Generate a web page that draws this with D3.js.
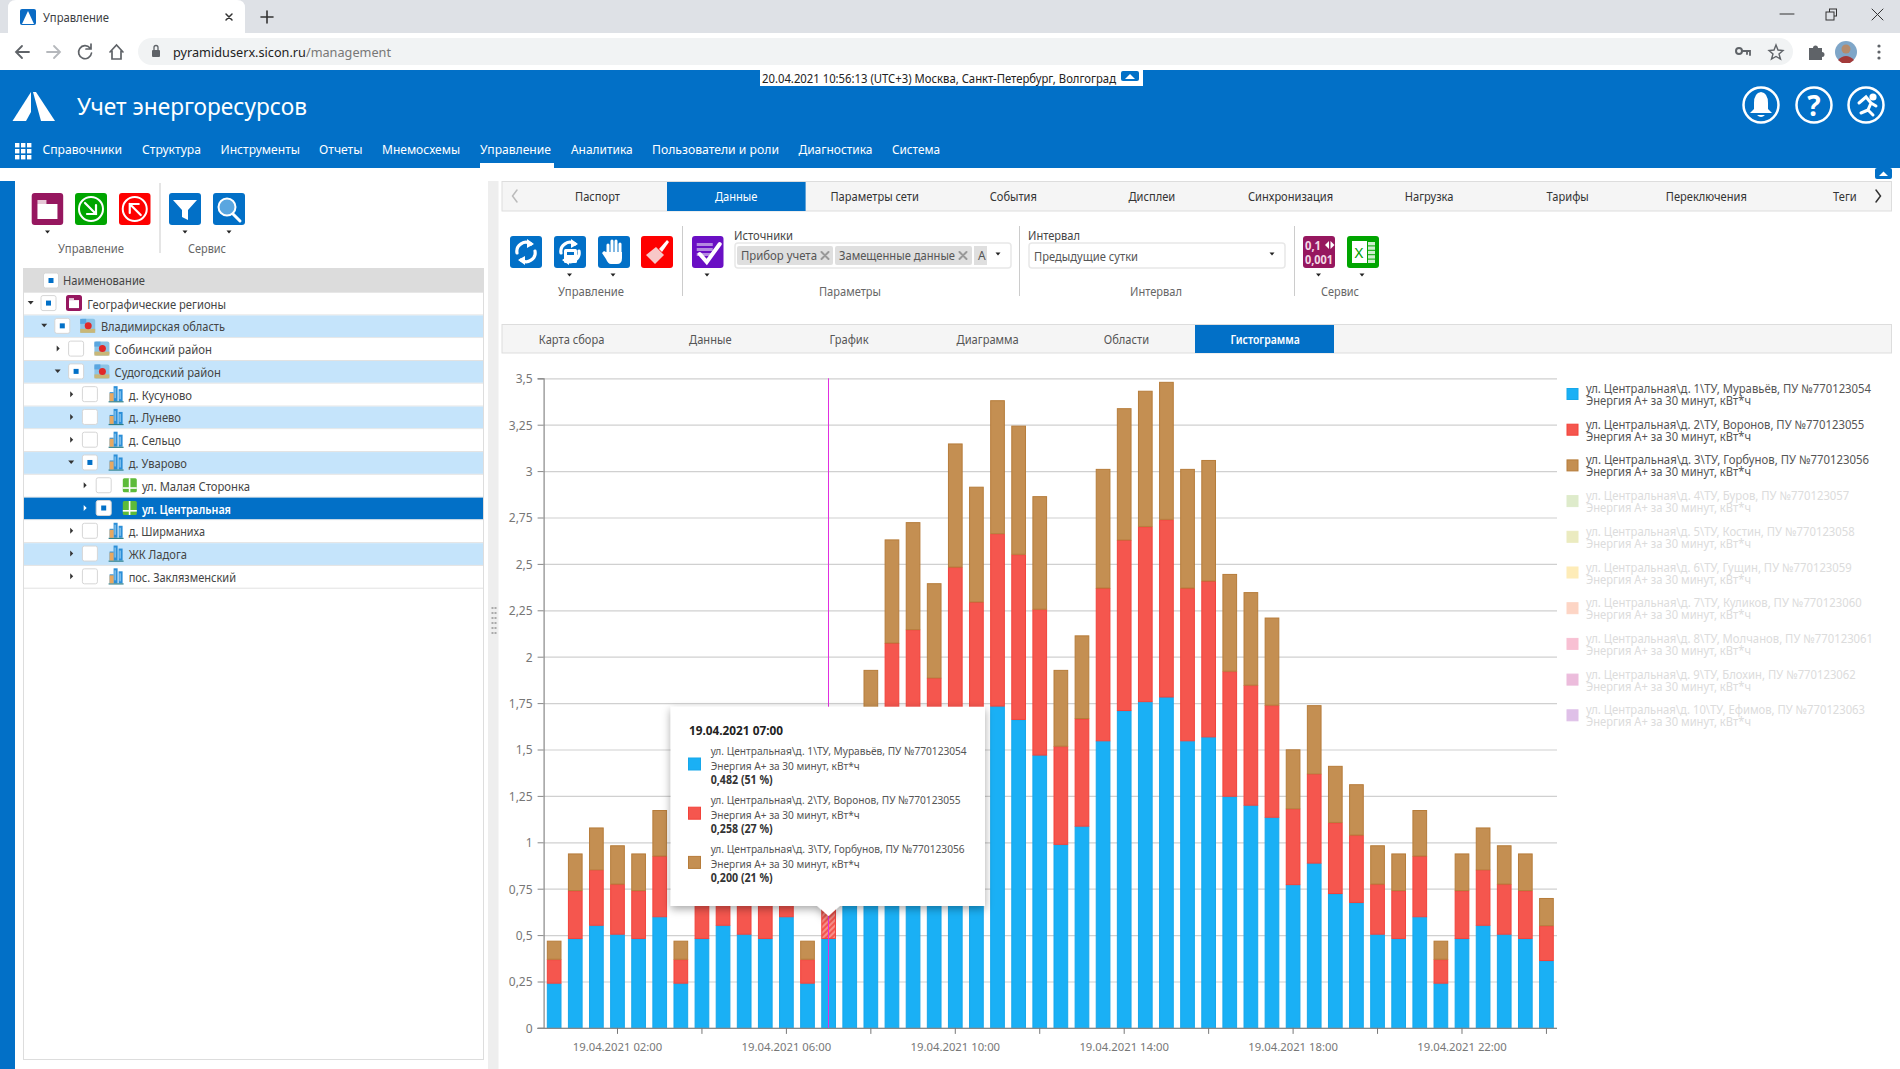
<!DOCTYPE html>
<html lang="ru"><head><meta charset="utf-8"><title>Управление</title>
<style>html,body{margin:0;padding:0;background:#fff;overflow:hidden}svg{display:block}text{font-family:"Noto Sans",sans-serif}</style>
<script src="https://cdnjs.cloudflare.com/ajax/libs/d3/7.8.5/d3.min.js"></script></head><body><svg id="c" width="1900" height="1069"></svg>
<script>
// ---- chart data ----
const slots = ["00:30","01:00","01:30","02:00","02:30","03:00","03:30","04:00","04:30","05:00","05:30","06:00","06:30","07:00","07:30","08:00","08:30","09:00","09:30","10:00","10:30","11:00","11:30","12:00","12:30","13:00","13:30","14:00","14:30","15:00","15:30","16:00","16:30","17:00","17:30","18:00","18:30","19:00","19:30","20:00","20:30","21:00","21:30","22:00","22:30","23:00","23:30","24:00"];
const meter1 = [.241,.482,.553,.505,.482,.599,.241,.482,.553,.505,.482,.599,.241,.482,.676,.989,1.35,1.4,1.23,1.615,1.495,1.734,1.662,1.47,.989,1.087,1.547,1.71,1.758,1.783,1.547,1.568,1.248,1.2,1.135,.772,.888,.724,.676,.505,.482,.599,.241,.482,.553,.505,.482,.363];
const meter2 = [.129,.258,.299,.27,.258,.327,.129,.258,.299,.27,.258,.327,.129,.258,.363,.529,.724,.746,.656,.868,.8,.929,.89,.786,.529,.58,.823,.919,.944,.957,.823,.84,.674,.647,.604,.409,.481,.383,.363,.27,.258,.327,.129,.258,.299,.27,.258,.188];
const meter3 = [.1,.2,.228,.209,.2,.248,.1,.2,.228,.209,.2,.248,.1,.2,.274,.411,.558,.579,.51,.666,.621,.719,.693,.609,.411,.448,.642,.71,.731,.741,.642,.652,.524,.501,.472,.32,.37,.305,.274,.209,.2,.248,.1,.2,.228,.209,.2,.149];
const seriesKeys = ["meter1","meter2","meter3"];
const yTicks = [0,.25,.5,.75,1,1.25,1.5,1.75,2,2.25,2.5,2.75,3,3.25,3.5];
const xTickSlots = ["02:00","04:00","06:00","08:00","10:00","12:00","14:00","16:00","18:00","20:00","22:00","24:00"];
const xLabelSlots = ["02:00","06:00","10:00","14:00","18:00","22:00"];
const datePrefix = "19.04.2021 ";
const legendNames = ["ул. Центральная\\д. 1\\ТУ, Муравьёв, ПУ №770123054","ул. Центральная\\д. 2\\ТУ, Воронов, ПУ №770123055","ул. Центральная\\д. 3\\ТУ, Горбунов, ПУ №770123056","ул. Центральная\\д. 4\\ТУ, Буров, ПУ №770123057","ул. Центральная\\д. 5\\ТУ, Костин, ПУ №770123058","ул. Центральная\\д. 6\\ТУ, Гущин, ПУ №770123059","ул. Центральная\\д. 7\\ТУ, Куликов, ПУ №770123060","ул. Центральная\\д. 8\\ТУ, Молчанов, ПУ №770123061","ул. Центральная\\д. 9\\ТУ, Блохин, ПУ №770123062","ул. Центральная\\д. 10\\ТУ, Ефимов, ПУ №770123063"];
const legendUnit = "Энергия А+ за 30 минут, кВт*ч";
const legendActive = [true,true,true,false,false,false,false,false,false,false];
const hoverSlot = "07:00";
const tooltipValues = ["0,482 (51 %)","0,258 (27 %)","0,200 (21 %)"];
const treeRows = ["Географические регионы","Владимирская область","Собинский район","Судогодский район","д. Кусуново","д. Лунево","д. Сельцо","д. Уварово","ул. Малая Сторонка","ул. Центральная","д. Ширманиха","ЖК Ладога","пос. Заклязменский"];
const treeDepth = [0,1,2,2,3,3,3,3,4,4,3,3,3];
const treeChecked = [1,1,0,1,0,0,0,1,0,1,0,0,0];
const treeOpen = [1,1,0,1,0,0,0,1,0,0,0,0,0];
const navItems = ["Справочники","Структура","Инструменты","Отчеты","Мнемосхемы","Управление","Аналитика","Пользователи и роли","Диагностика","Система"];
const topTabs = ["Паспорт","Данные","Параметры сети","События","Дисплеи","Синхронизация","Нагрузка","Тарифы","Переключения","Теги"];
const subTabs = ["Карта сбора","Данные","График","Диаграмма","Области","Гистограмма"];

// ---- layout measurements (not data) ----
const treeEnds = [226,225,212,221,192,181,181,187,250,231,205,187,236];
const navStart = [42.4,142,220.5,319,382,480,571,652,798.5,892];
const navEnd = [122,201,300,362.5,460,551,632.6,779,872.5,940];
const legendWidths = [285,278.3,283,263.3,268.7,265.7,275.7,287,269.7,279];

// ---- palette ----
const BLUE="#0270c7", cols={meter1:"#1ab0f5",meter2:"#f5564e",meter3:"#c48f52"}, strokes={meter1:"#16a7ea",meter2:"#f2423a",meter3:"#b67c3a"};
const legendFaded=["","","","#deebcb","#ebebc0","#feecb8","#fdd5c5","#f8c0d3","#ecbcdc","#dfc0e8"];

const svg=d3.select("#c");
const defs=svg.append("defs");
function hatch(id,bg,fg){const p=defs.append("pattern").attr("id",id).attr("width",4).attr("height",4).attr("patternUnits","userSpaceOnUse").attr("patternTransform","rotate(45)");
  p.append("rect").attr("width",4).attr("height",4).attr("fill",bg);p.append("rect").attr("width",2).attr("height",4).attr("fill",fg);}
hatch("hatchR","#f5564e","#f88f88");hatch("hatchB","#c48f52","#dcb98e");
const sh=defs.append("filter").attr("id","sh").attr("x","-10%").attr("y","-10%").attr("width","120%").attr("height","125%");
sh.append("feDropShadow").attr("dx",0).attr("dy",3).attr("stdDeviation",4).attr("flood-color","#000").attr("flood-opacity",.35);

function R(g,x,y,w,h,f,o={}){const r=g.append("rect").attr("x",x).attr("y",y).attr("width",w).attr("height",h).attr("fill",f);
  if(o.s)r.attr("stroke",o.s).attr("stroke-width",o.sw||1);if(o.r)r.attr("rx",o.r);return r;}
function T(g,x,y,s,o={}){const t=g.append("text").attr("x",x).attr("y",y).attr("dominant-baseline","central").attr("font-size",o.z||12).attr("fill",o.f||"#444").attr("text-anchor",o.a||"start").text(s);
  if(o.b)t.attr("font-weight",o.b);if(o.w)t.attr("textLength",o.w).attr("lengthAdjust","spacingAndGlyphs");
  if(o.k)t.attr("textLength",t.node().getComputedTextLength()*o.k).attr("lengthAdjust","spacingAndGlyphs");return t;}
function P(g,d,f,o={}){const p=g.append("path").attr("d",d).attr("fill",f||"none");if(o.s)p.attr("stroke",o.s).attr("stroke-width",o.sw||1).attr("stroke-linecap","round");return p;}

// ---- browser chrome ----
const ch=svg.append("g");
R(ch,0,0,1900,33,"#dee1e6");
P(ch,"M8 33 V8 Q8 0 16 0 H237 Q245 0 245 8 V33 Z","#fff");
R(ch,20,9,16,16,"#0a6bc4",{r:2});P(ch,"M28 11 L34 24 H22 Z","#fff");
T(ch,43,17,"Управление",{z:12,w:66,f:"#3c4043"});
P(ch,"M226 14 L232 20 M232 14 L226 20",null,{s:"#333",sw:1.5});
P(ch,"M267 11 V23 M261 17 H273",null,{s:"#333",sw:1.6});
P(ch,"M1780 14 H1794",null,{s:"#333"});
ch.append("rect").attr("x",1829.5).attr("y",9).attr("width",7).attr("height",7).attr("fill","none").attr("stroke","#333");
R(ch,1826,12,8,8,"#dee1e6",{s:"#333"});
P(ch,"M1872 9 L1883 20 M1883 9 L1872 20",null,{s:"#333"});
R(ch,0,33,1900,37,"#fff");
P(ch,"M16 52 H29 M22 46 L16 52 L22 58",null,{s:"#5f6368",sw:1.8});
P(ch,"M47 52 H60 M54 46 L60 52 L54 58",null,{s:"#b5b8bc",sw:1.8});
P(ch,"M90 48 A6.5 6.5 0 1 0 91.5 53 M91 44 V49 H86",null,{s:"#5f6368",sw:1.7});
P(ch,"M110 52 L116.5 45 L123 52 M112 51 V59 H121 V51",null,{s:"#5f6368",sw:1.7});
R(ch,138,38,1655,27,"#f1f3f4",{r:13.5});
R(ch,152,50,8,7,"#5f6368",{r:1});P(ch,"M154 50 V47.5 A2 2 0 0 1 158 47.5 V50",null,{s:"#5f6368",sw:1.3});
const url=T(ch,173,51.5,"",{z:13,f:"#222"});url.append("tspan").text("pyramiduserx.sicon.ru");url.append("tspan").attr("fill","#777").text("/management");url.attr("textLength",218).attr("lengthAdjust","spacingAndGlyphs");
ch.append("circle").attr("cx",1739).attr("cy",51).attr("r",3).attr("fill","none").attr("stroke","#5f6368").attr("stroke-width",2);
P(ch,"M1742 51 H1750 V55 M1747 51 V54",null,{s:"#5f6368",sw:1.8});
P(ch,"M1776 45 L1778 50 L1783 50.5 L1779 54 L1780.5 59 L1776 56.5 L1771.5 59 L1773 54 L1769 50.5 L1774 50 Z",null,{s:"#5f6368",sw:1.4});
P(ch,"M1809 48 H1813 A2.5 2.5 0 0 1 1818 48 H1822 V52 A2.5 2.5 0 0 1 1822 57 V60 H1809 Z","#5f6368");
ch.append("circle").attr("cx",1846).attr("cy",52).attr("r",11).attr("fill","#7fa6c8");
ch.append("circle").attr("cx",1846).attr("cy",49).attr("r",4.5).attr("fill","#b58b6c");
P(ch,"M1838 60 Q1846 52 1854 60 L1850 63 H1842 Z","#a33a3a");
[46,52,58].forEach(y=>ch.append("circle").attr("cx",1879).attr("cy",y).attr("r",1.6).attr("fill","#5f6368"));

// ---- app header ----
const hd=svg.append("g");
R(hd,0,70,1900,98,BLUE);
P(hd,"M12.5 121 L31 92 L31 112 L26 121 Z","#fff");P(hd,"M33 92 L36 92 L55 121 L41 121 Z","#fff");
T(hd,77,105.5,"Учет энергоресурсов",{z:23,f:"#fff",w:230});
R(hd,760,69,383,17,"#fff");
T(hd,762,78,"20.04.2021 10:56:13 (UTC+3) Москва, Санкт-Петербург, Волгоград",{z:12,f:"#222",w:354});
R(hd,1121,71,18,10,BLUE,{r:2});P(hd,"M1125 79 L1130 74 L1135 79 Z","#fff");
[[1761],[1814],[1866]].forEach(([x])=>{hd.append("circle").attr("cx",x).attr("cy",105).attr("r",17.5).attr("fill","none").attr("stroke","#fff").attr("stroke-width",2.5);});
P(hd,"M1761 92 Q1754 93 1754 103 V109 L1750 113 H1772 L1768 109 V103 Q1768 93 1761 92 Z","#fff");P(hd,"M1757 115 H1765 Q1761 119 1757 115 Z","#fff");
T(hd,1814,105,"?",{z:28,f:"#fff",a:"middle",b:700});
hd.append("circle").attr("cx",1873).attr("cy",97).attr("r",3.6).attr("fill","#fff");
P(hd,"M1859 103 L1866 97 L1871 103 L1868 110 L1873 115 M1868 110 L1861 113 M1871 103 L1876 106",null,{s:"#fff",sw:3});
for(let i=0;i<3;i++)for(let j=0;j<3;j++)R(hd,15+i*6,143+j*6,4.4,4.4,"#fff");
navItems.forEach((n,i)=>T(hd,navStart[i],148.5,n,{z:13,f:"#fff",w:navEnd[i]-navStart[i]}));
R(hd,480,163,74,5,"#fff");
R(hd,1875,168,17,11,BLUE,{r:2});P(hd,"M1879 176 L1883.5 171.5 L1888 176 Z","#fff");

// ---- toolbar icon helpers ----
function btn(g,x,y,w,h,c,kind){R(g,x,y,w,h,c,{r:3});const cx=x+w/2,cy=y+h/2;
  if(kind==="folder"){R(g,cx-10,cy-9,9,4,"#e6c6d6");R(g,cx-10,cy-5,20,15,"#fff");}
  if(kind==="in"||kind==="out"){g.append("circle").attr("cx",cx).attr("cy",cy).attr("r",12).attr("fill","none").attr("stroke","#fff").attr("stroke-width",2);
    const a=kind==="in"?`M${cx-6} ${cy-6} L${cx+5} ${cy+5} M${cx+5} ${cy-4} V${cy+5} H${cx-4}`:`M${cx+6} ${cy+6} L${cx-5} ${cy-5} M${cx-5} ${cy+4} V${cy-5} H${cx+4}`;P(g,a,null,{s:"#fff",sw:2.2});}
  if(kind==="filter")P(g,`M${cx-12} ${cy-9} H${cx+12} L${cx+3} ${cy+1} V${cy+11} L${cx-3} ${cy+8} V${cy+1} Z`,"#fff");
  if(kind==="search"){g.append("circle").attr("cx",cx-2).attr("cy",cy-2).attr("r",8.5).attr("fill","#5aa6e0").attr("stroke","#fff").attr("stroke-width",2);P(g,`M${cx+4} ${cy+5} L${cx+11} ${cy+12}`,null,{s:"#fff",sw:3});}
  if(kind==="sync"||kind==="sync2"){P(g,`M${cx-9} ${cy+1} A9 9 0 0 1 ${cx+5} ${cy-8} M${cx+9} ${cy-1} A9 9 0 0 1 ${cx-5} ${cy+8}`,null,{s:"#fff",sw:3.2});
    P(g,`M${cx+1} ${cy-13} L${cx+8} ${cy-8} L${cx+1} ${cy-4} Z M${cx-1} ${cy+13} L${cx-8} ${cy+8} L${cx-1} ${cy+4} Z`,"#fff");
    if(kind==="sync2"){R(g,cx-6,cy-3,13,14,"#fff",{r:1.5});R(g,cx-3,cy,7,3,BLUE);}}
  if(kind==="hand"){[[-6,-7],[-2,-11],[2,-11],[6,-8]].forEach(([dx,t])=>P(g,`M${cx+dx} ${cy+2} V${cy+t}`,null,{s:"#fff",sw:3}));
    P(g,`M${cx-8} ${cy} H${cx+8} V${cy+6} Q${cx+8} ${cy+12} ${cx+3} ${cy+12} H${cx-3} Q${cx-6} ${cy+12} ${cx-8} ${cy+7} L${cx-12} ${cy+1} L${cx-10} ${cy-1} Z`,"#fff");}
  if(kind==="brush"){P(g,`M${cx+2} ${cy-3} L${cx+10} ${cy-12} L${cx+12} ${cy-10} L${cx+5} ${cy}`,"#fff");P(g,`M${cx-1} ${cy-5} L${cx+7} ${cy+3} L${cx-2} ${cy+12} L${cx-11} ${cy+3} Z`,"#f8c8c8");}
  if(kind==="check"){[-9,-4,1].forEach(d=>R(g,cx-11,cy+d,16,3,"#b48ae0"));P(g,`M${cx-8} ${cy+2} L${cx-1} ${cy+10} L${cx+12} ${cy-8}`,null,{s:"#fff",sw:4});}
  if(kind==="digits"){T(g,cx-6,cy-7,"0,1",{z:12,f:"#f3d9e6",w:16,a:"middle",b:700});P(g,`M${cx+6} ${cy-7} l4 -4 v8 Z M${cx+11.5} ${cy-11} l4 4 l-4 4 Z`,"#fff");T(g,cx,cy+7,"0,001",{z:12,f:"#f3d9e6",w:28,a:"middle",b:700});}
  if(kind==="excel"){R(g,cx-11,cy-11,15,22,"#fff");T(g,cx-4,cy,"X",{z:15,f:"#00a000",a:"middle"});for(let i=0;i<5;i++)R(g,cx+5,cy-10+i*4.4,7,3.4,"#cfeecf");}
}
function caret(g,x,y){P(g,`M${x-2.5} ${y-1.5} H${x+2.5} L${x} ${y+1.5} Z`,"#222");}

// ---- left panel ----
const lp=svg.append("g");
R(lp,0,181,15,888,BLUE);
btn(lp,31.7,193,31.5,32,"#96175f","folder");btn(lp,75,193,32,32,"#00a500","in");btn(lp,119,193,31.5,32,"#fe0000","out");
btn(lp,169,193,32,32,BLUE,"filter");btn(lp,213,193,32,32,BLUE,"search");
[47.5,185,229].forEach(x=>caret(lp,x,232));
R(lp,159.5,183,1,70,"#ccc");
T(lp,91,248,"Управление",{z:12,a:"middle",f:"#666",w:66});T(lp,207,248,"Сервис",{z:12,a:"middle",f:"#666",w:38});
R(lp,23,268,461,25,"#dcdcdc");
function chk(g,x,y,on){R(g,x,y,15,15,"#fff",{s:"#d6d6d6",r:2});if(on)R(g,x+5,y+5,5,5,BLUE);}
chk(lp,43.5,273,1);T(lp,63,280,"Наименование",{z:12,w:82,f:"#444"});
R(lp,23.5,292.5,460,767,"#fff",{s:"#ddd"});
const rowY=d3.scaleLinear().domain([0,13]).range([292.7,588.7]);
treeRows.forEach((n,i)=>{const y=rowY(i),h=rowY(1)-rowY(0),d=treeDepth[i],sel=i===9;
  const bg=sel?BLUE:[1,3,5,7,11].includes(i)?"#c5e4fb":"#fff";
  R(lp,24,y,459,h-1,bg);R(lp,24,y+h-1,459,1,"#e2e2e2");
  const cy=y+h/2-1,ax=30.7+d*13.5;
  if(treeOpen[i])P(lp,`M${ax-3} ${cy-2} H${ax+3} L${ax} ${cy+1.5} Z`,"#333");else P(lp,`M${ax-1} ${cy-3} L${ax+2} ${cy} L${ax-1} ${cy+3} Z`,sel?"#fff":"#333");
  chk(lp,41+d*13.8,cy-7.5,treeChecked[i]);
  const ix=66+d*14.2;
  if(d===0){R(lp,ix,cy-8,16,16,"#96175f",{r:2.5});R(lp,ix+3,cy-3,10,8,"#fff");R(lp,ix+3,cy-5,5,2,"#e6c6d6");}
  else if(d<=2){R(lp,ix,cy-7,15,14,"#8cc4e6",{r:2});R(lp,ix,cy+3,15,4,"#c9b777");R(lp,ix,cy-7,6,5,"#5aa6e0");lp.append("circle").attr("cx",ix+8).attr("cy",cy).attr("r",3.5).attr("fill","#e02828");}
  else if(d===3){[[1,6,9],[5,0,15],[10,3,12]].forEach(([a,b,c])=>R(lp,ix+a,cy-8+b,4,c,"#2c8fd8"));R(lp,ix,cy+7,15,1.2,"#2e7f8a");R(lp,ix+1,cy-1,4,8,"#e8a860");R(lp,ix+6,cy-6,1,10,"#a9d8f5");R(lp,ix+11,cy-3,1,8,"#a9d8f5");}
  else{R(lp,ix,cy-7,14,14,"#5dbb3a",{r:1.5});R(lp,ix,cy+2,14,1.6,"#fff");R(lp,ix+6,cy-7,1.6,14,"#fff");}
  const tx=87.3+d*13.65+(d===3?.4:0);
  T(lp,tx,cy+1,n,{z:12,f:sel?"#fff":"#444",b:sel?600:null,w:treeEnds[i]-tx});
});
R(lp,488,181,10.5,888,"#eeeeee");
d3.range(6).forEach(i=>{[491.5,494.5].forEach(x=>R(lp,x,607+i*5,2,2,"#aaa"));});

// ---- right tabs ----
const rp=svg.append("g");
R(rp,502,181.5,1389.5,29.5,"#f5f5f5",{s:"#ddd"});
P(rp,"M517 190 L512.5 196 L517 202",null,{s:"#bbb",sw:1.5});
P(rp,"M1876 190 L1880.5 196 L1876 202",null,{s:"#333",sw:1.5});
R(rp,667,182,138.6,29,BLUE);
topTabs.forEach((n,i)=>T(rp,597.5+i*138.6,196.5,n,{z:12,a:"middle",f:i===1?"#fff":"#333",k:.925}));
btn(rp,510,236,32,32,BLUE,"sync");btn(rp,554,236,32,32,BLUE,"sync2");btn(rp,598,236,32,32,BLUE,"hand");btn(rp,641,236,32,32,"#fe0000","brush");
btn(rp,692,236,31.5,32,"#6a0fc4","check");
[569.5,613,707].forEach(x=>caret(rp,x,275));
T(rp,591,291,"Управление",{z:12,a:"middle",f:"#666",w:66});
R(rp,682,226,1,70,"#ccc");R(rp,1019,226,1,70,"#ccc");R(rp,1294,226,1,70,"#ccc");
T(rp,734,235,"Источники",{z:12,f:"#444",w:59});
R(rp,735,243,276,25,"#fff",{s:"#e8e8e8",sw:1.5,r:3});
R(rp,737,246,96,19,"#dfdfdf",{r:2});R(rp,835,246,137,19,"#dfdfdf",{r:2});R(rp,974,246,13,19,"#dfdfdf");
T(rp,741,255.5,"Прибор учета",{z:12,w:76,f:"#555"});T(rp,839,255.5,"Замещенные данные",{z:12,w:116,f:"#555"});T(rp,978,255.5,"А",{z:12,f:"#555"});
[[825],[963]].forEach(([x])=>P(rp,`M${x-3.5} 252 L${x+3.5} 259 M${x+3.5} 252 L${x-3.5} 259`,null,{s:"#999",sw:2}));
caret(rp,998,254);
T(rp,850,291,"Параметры",{z:12,a:"middle",f:"#666",w:62});
T(rp,1028,235,"Интервал",{z:12,f:"#444",w:52});
R(rp,1029,243,256,25,"#fff",{s:"#e8e8e8",sw:1.5,r:3});T(rp,1034,256,"Предыдущие сутки",{z:12,f:"#555",w:104});caret(rp,1272,254);
T(rp,1156,291,"Интервал",{z:12,a:"middle",f:"#666",w:52});
btn(rp,1303,236,32,32,"#96175f","digits");btn(rp,1347,236,32,32,"#00a500","excel");
[1318.5,1362].forEach(x=>caret(rp,x,275));
T(rp,1340,291,"Сервис",{z:12,a:"middle",f:"#666",w:38});
R(rp,502,324.5,1389.5,28.5,"#f5f5f5",{s:"#ddd"});
R(rp,1195,325,139,28,BLUE);
subTabs.forEach((n,i)=>T(rp,571.6+i*138.7,339,n,{z:12,a:"middle",f:i===5?"#fff":"#555",b:i===5?600:null,k:i===5?.87:.925}));

// ---- chart ----
const plot=svg.append("g");
const data=slots.map((s,i)=>({slot:s,meter1:meter1[i],meter2:meter2[i],meter3:meter3[i]}));
const x=d3.scaleBand().domain(slots).range([543.6,1557]).paddingInner(.304).paddingOuter(.152);
const y=d3.scaleLinear().domain([0,3.5]).range([1027.9,378.3]);
const fmt=v=>String(v).replace(".",",");
const grid=plot.append("g").attr("transform","translate(543.6,0)").call(d3.axisLeft(y).tickValues(yTicks).tickSize(-1013.4).tickFormat(""));
grid.selectAll(".tick line").attr("stroke","#d0d0d0").attr("stroke-width",1.2);grid.select(".domain").remove();
const stacked=d3.stack().keys(seriesKeys)(data);
stacked.forEach(layer=>{
  plot.append("g").selectAll("rect").data(layer).join("rect")
   .attr("x",d=>x(d.data.slot)+.5).attr("width",x.bandwidth()-1)
   .attr("y",d=>y(d[1])+.5).attr("height",d=>Math.max(0,y(d[0])-y(d[1])-.5))
   .attr("fill",d=>d.data.slot===hoverSlot&&layer.key!=="meter1"?(layer.key==="meter2"?"url(#hatchR)":"url(#hatchB)"):cols[layer.key])
   .attr("stroke",strokes[layer.key]).attr("stroke-width",1);
});
const yAxis=plot.append("g").attr("transform","translate(543.6,0)").call(d3.axisLeft(y).tickValues(yTicks).tickSize(6).tickPadding(5).tickFormat(fmt));
yAxis.selectAll("text").attr("font-size",12).attr("fill","#777").attr("dy","0.37em");yAxis.selectAll("line").attr("stroke","#888");yAxis.select(".domain").attr("stroke","#888").attr("stroke-width",1.2);
const xAxis=plot.append("g").attr("transform","translate(0,1027.9)").call(d3.axisBottom(x).tickValues(xTickSlots).tickSize(6).tickPadding(9).tickFormat(s=>xLabelSlots.includes(s)?datePrefix+s:""));
xAxis.selectAll("text").attr("font-size",11.3).attr("fill","#777");xAxis.selectAll("line").attr("stroke","#777");xAxis.select(".domain").attr("d","M537.5 0.5 H1557").attr("stroke","#888").attr("stroke-width",1.2);
const hx=Math.floor(x(hoverSlot)+x.bandwidth()/2)+.5;
plot.append("line").attr("x1",hx).attr("x2",hx).attr("y1",y(3.5)).attr("y2",y(0)).attr("stroke","#e02fe0").attr("stroke-width",1);

// legend
const lg=svg.append("g");
const legendY=d3.scaleLinear().domain([0,1]).range([388.5,424.2]);
legendNames.forEach((n,i)=>{const on=legendActive[i],c=on?cols[seriesKeys[i]]:legendFaded[i],yy=legendY(i);
  R(lg,1567,yy,11,11,c,{s:on?strokes[seriesKeys[i]]:c});
  T(lg,1586,yy,n,{z:12,f:on?"#555":"#dcdcdc",w:legendWidths[i]});
  T(lg,1586,yy+12,legendUnit,{z:12,f:on?"#555":"#dcdcdc",w:165});});

// tooltip
const tp=svg.append("g");
const tipPath=`M670.7 706.7 H985 V906 H${hx+11} L${hx} 916 L${hx-11} 906 H670.7 Z`;
P(tp,tipPath,"#fff").attr("filter","url(#sh)");
T(tp,689,730,datePrefix+hoverSlot,{z:12.5,b:700,f:"#222",w:94});
[0,1,2].forEach(i=>{const oy=i*49.2;
  R(tp,688.5,758+oy,12,12,cols[seriesKeys[i]],{s:strokes[seriesKeys[i]]});
  const n=legendNames[i];
  T(tp,710.7,750.2+oy,n,{z:11.5,f:"#555",w:[256,250,254][i]});
  T(tp,710.7,765+oy,legendUnit,{z:11.5,f:"#555",w:149});
  T(tp,710.7,779.5+oy,tooltipValues[i],{z:11.5,b:700,f:"#333",w:62});});
</script></body></html>
